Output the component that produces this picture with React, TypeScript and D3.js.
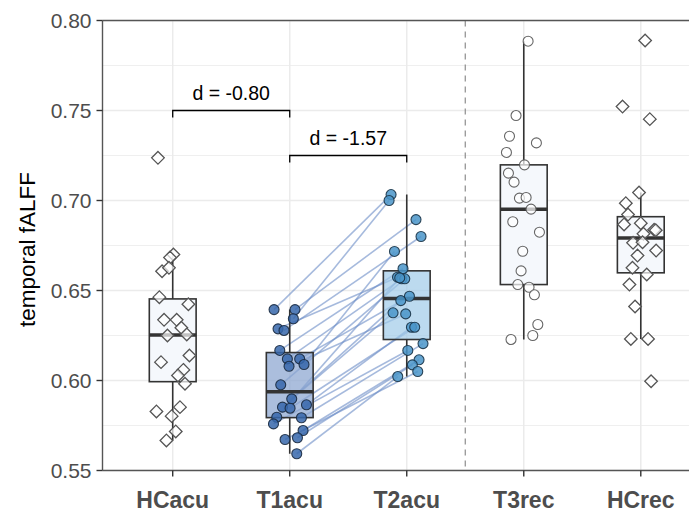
import React, { useRef, useEffect } from 'react';
import * as d3 from 'd3';

// groups on the x axis
const categories = ['HCacu', 'T1acu', 'T2acu', 'T3rec', 'HCrec'];

// fALFF values, jitter in fractions of a category step
const hcAcu = [0.7237, 0.670, 0.6683, 0.6607, 0.6626, 0.6463, 0.6424, 0.6337, 0.6337, 0.6293, 0.625,
    0.6256, 0.6139, 0.6102, 0.6059, 0.6028, 0.5982, 0.5828, 0.5852, 0.5802, 0.5717, 0.5667];
const hcAcuJitter = [-0.126, 0.006, -0.023, -0.091, -0.032, -0.114, 0.134, -0.074, 0.034, 0.074, -0.045,
    0.120, 0.143, -0.100, 0.091, 0.045, 0.105, -0.139, 0.062, -0.009, 0.026, -0.054];

// paired patients: same index = same subject
const t1Acu = [0.6394, 0.6394, 0.6343, 0.6287, 0.6278, 0.6167, 0.612, 0.612, 0.6089, 0.6079, 0.5976,
    0.5898, 0.5865, 0.5852, 0.5846, 0.5796, 0.5793, 0.5759, 0.5722, 0.5682, 0.5672, 0.5593];
const t1Jitter = [-0.134, 0.045, 0.031, -0.100, -0.049, -0.085, -0.020, 0.085, 0.122, -0.006, -0.077,
    0.017, 0.143, -0.062, 0.003, -0.111, 0.100, -0.139, 0.114, 0.066, -0.040, 0.060];
const t2Acu = [0.7033, 0.6894, 0.700, 0.6574, 0.680, 0.6621, 0.6565, 0.6468, 0.6717, 0.6370, 0.6565,
    0.6444, 0.6296, 0.6376, 0.6296, 0.657, 0.6205, 0.6167, 0.6115, 0.6087, 0.605, 0.6022];
const t2Jitter = [-0.134, 0.079, -0.151, -0.079, 0.122, -0.032, -0.043, 0.023, -0.105, -0.009, -0.017,
    -0.051, 0.040, -0.117, 0.068, -0.060, 0.139, 0.009, 0.105, 0.048, 0.094, -0.077];

const t3Rec = [0.7885, 0.7472, 0.7357, 0.7320, 0.7267, 0.7198, 0.7152, 0.7102, 0.7013, 0.7017, 0.6952,
    0.6882, 0.6824, 0.6718, 0.6609, 0.6533, 0.6518, 0.6476, 0.6311, 0.625, 0.6228];
const t3Jitter = [0.037, -0.066, -0.122, 0.108, -0.148, 0.006, -0.131, -0.083, -0.037, 0.020, 0.062,
    -0.094, 0.134, -0.009, -0.023, -0.051, 0.045, 0.091, 0.120, 0.077, -0.109];

const hcRec = [0.7889, 0.7522, 0.7452, 0.7044, 0.6985, 0.6922, 0.6867, 0.6874, 0.6815, 0.6837, 0.6835,
    0.6765, 0.6768, 0.6722, 0.6694, 0.6626, 0.6589, 0.6533, 0.6411, 0.6231, 0.6231, 0.5996];
const hcRecJitter = [0.037, -0.156, 0.077, -0.015, -0.128, -0.109, -0.143, 0.0, 0.023, 0.114, 0.128,
    -0.066, 0.015, 0.131, -0.028, -0.071, 0.051, -0.097, -0.049, -0.085, 0.062, 0.088];

const yTicks = [0.55, 0.60, 0.65, 0.70, 0.75, 0.80];
const yMinorTicks = [0.575, 0.625, 0.675, 0.725, 0.775];

// effect size brackets
const brackets = [
    { from: 'HCacu', to: 'T1acu', y: 0.75, label: 'd = -0.80' },
    { from: 'T1acu', to: 'T2acu', y: 0.725, label: 'd = -1.57' }
];

const W = 689, H = 515;
const panel = { left: 102.5, right: 711, top: 20.5, bottom: 470.5 };
const FONT = "'Liberation Sans', Arial, Helvetica, sans-serif";

// ggplot style box stats (type 7 quantiles, 1.5 IQR whiskers)
const boxStats = (values) => {
    const s = [...values].sort(d3.ascending);
    const q1 = d3.quantileSorted(s, 0.25);
    const med = d3.quantileSorted(s, 0.5);
    const q3 = d3.quantileSorted(s, 0.75);
    const iqr = q3 - q1;
    const lo = d3.min(s.filter(v => v >= q1 - 1.5 * iqr));
    const hi = d3.max(s.filter(v => v <= q3 + 1.5 * iqr));
    return { q1, med, q3, lo, hi };
};

export default function App() {
    const svgRef = useRef(null);

    useEffect(() => {
        const svg = d3.select(svgRef.current);
        svg.selectAll('*').remove();

        const x = d3.scalePoint().domain(categories).range([panel.left, panel.right]).padding(0.6);
        const y = d3.scaleLinear().domain([0.55, 0.80]).range([panel.bottom, panel.top]);
        const step = x.step();
        const boxW = step * 0.4;

        svg.append('clipPath').attr('id', 'panel-clip')
            .append('rect')
            .attr('x', panel.left).attr('y', panel.top)
            .attr('width', panel.right - panel.left).attr('height', panel.bottom - panel.top);

        const g = svg.append('g').attr('clip-path', 'url(#panel-clip)');

        // grid
        g.selectAll('.minor').data(yMinorTicks).join('line')
            .attr('x1', panel.left).attr('x2', panel.right)
            .attr('y1', d => y(d)).attr('y2', d => y(d))
            .attr('stroke', '#ebebeb').attr('stroke-width', 0.8);
        g.selectAll('.major').data(yTicks).join('line')
            .attr('x1', panel.left).attr('x2', panel.right)
            .attr('y1', d => y(d)).attr('y2', d => y(d))
            .attr('stroke', '#ebebeb').attr('stroke-width', 1.5);
        g.selectAll('.vgrid').data(categories).join('line')
            .attr('x1', d => x(d)).attr('x2', d => x(d))
            .attr('y1', panel.top).attr('y2', panel.bottom)
            .attr('stroke', '#ebebeb').attr('stroke-width', 1.5);

        // acute / recovery separator
        const sepX = (x('T2acu') + x('T3rec')) / 2;
        g.append('line')
            .attr('x1', sepX).attr('x2', sepX)
            .attr('y1', panel.top).attr('y2', panel.bottom)
            .attr('stroke', '#8c8c8c').attr('stroke-width', 1.2)
            .attr('stroke-dasharray', '6,5');

        // patient lines T1 -> T2
        g.selectAll('.pair').data(t1Acu).join('line')
            .attr('x1', (d, i) => x('T1acu') + t1Jitter[i] * step)
            .attr('y1', d => y(d))
            .attr('x2', (d, i) => x('T2acu') + t2Jitter[i] * step)
            .attr('y2', (d, i) => y(t2Acu[i]))
            .attr('stroke', '#6a8cc6').attr('stroke-opacity', 0.6).attr('stroke-width', 1.6);

        const groups = [
            { key: 'HCacu', values: hcAcu, jitter: hcAcuJitter, boxFill: '#f5f8fc', boxOpacity: 1, shape: 'diamond', fill: '#ffffff', stroke: '#555555' },
            { key: 'T1acu', values: t1Acu, jitter: t1Jitter, boxFill: '#8aa5d0', boxOpacity: 0.72, shape: 'circle', fill: '#3767ab', stroke: '#1a2a40' },
            { key: 'T2acu', values: t2Acu, jitter: t2Jitter, boxFill: '#9fcbe8', boxOpacity: 0.7, shape: 'circle', fill: '#4a95c9', stroke: '#1a3448' },
            { key: 'T3rec', values: t3Rec, jitter: t3Jitter, boxFill: '#f5f8fc', boxOpacity: 1, shape: 'circle', fill: '#ffffff', stroke: '#555555' },
            { key: 'HCrec', values: hcRec, jitter: hcRecJitter, boxFill: '#f5f8fc', boxOpacity: 1, shape: 'diamond', fill: '#ffffff', stroke: '#555555' }
        ];

        groups.forEach(grp => {
            const st = boxStats(grp.values);
            const cx = x(grp.key);
            const bg = g.append('g');
            bg.append('line')
                .attr('x1', cx).attr('x2', cx).attr('y1', y(st.hi)).attr('y2', y(st.q3))
                .attr('stroke', '#333').attr('stroke-width', 1.6);
            bg.append('line')
                .attr('x1', cx).attr('x2', cx).attr('y1', y(st.q1)).attr('y2', y(st.lo))
                .attr('stroke', '#333').attr('stroke-width', 1.6);
            bg.append('rect')
                .attr('x', cx - boxW / 2).attr('y', y(st.q3))
                .attr('width', boxW).attr('height', y(st.q1) - y(st.q3))
                .attr('fill', grp.boxFill).attr('fill-opacity', grp.boxOpacity)
                .attr('stroke', '#333').attr('stroke-width', 1.6);
            bg.append('line')
                .attr('x1', cx - boxW / 2).attr('x2', cx + boxW / 2)
                .attr('y1', y(st.med)).attr('y2', y(st.med))
                .attr('stroke', '#333').attr('stroke-width', 3.5);
        });

        groups.forEach(grp => {
            const cx = x(grp.key);
            const pts = grp.values.map((v, i) => ({ px: cx + grp.jitter[i] * step, py: y(v) }));
            if (grp.shape === 'diamond') {
                g.append('g').selectAll('path').data(pts).join('path')
                    .attr('d', d => `M${d.px},${d.py - 6.3}L${d.px + 6.3},${d.py}L${d.px},${d.py + 6.3}L${d.px - 6.3},${d.py}Z`)
                    .attr('fill', grp.fill).attr('fill-opacity', 0.7)
                    .attr('stroke', grp.stroke).attr('stroke-width', 1.3);
            } else {
                g.append('g').selectAll('circle').data(pts).join('circle')
                    .attr('cx', d => d.px).attr('cy', d => d.py).attr('r', 5)
                    .attr('fill', grp.fill).attr('fill-opacity', grp.fill === '#ffffff' ? 0.7 : 0.85)
                    .attr('stroke', grp.stroke).attr('stroke-opacity', 0.9).attr('stroke-width', 1.1);
            }
        });

        // brackets
        brackets.forEach(b => {
            const x1 = x(b.from), x2 = x(b.to), by = y(b.y);
            svg.append('path')
                .attr('d', `M${x1},${by + 7}V${by}H${x2}V${by + 7}`)
                .attr('fill', 'none').attr('stroke', '#000').attr('stroke-width', 1.3);
            svg.append('text')
                .attr('x', (x1 + x2) / 2).attr('y', by - 10.5)
                .attr('text-anchor', 'middle')
                .attr('font-family', FONT).attr('font-size', 19.5).attr('fill', '#000')
                .text(b.label);
        });

        // panel border and axes
        svg.append('line')
            .attr('x1', panel.left).attr('x2', panel.right).attr('y1', panel.top).attr('y2', panel.top)
            .attr('stroke', '#555').attr('stroke-width', 1.4);
        svg.append('line')
            .attr('x1', panel.left).attr('x2', panel.right).attr('y1', panel.bottom).attr('y2', panel.bottom)
            .attr('stroke', '#555').attr('stroke-width', 1.4);
        svg.append('line')
            .attr('x1', panel.left).attr('x2', panel.left).attr('y1', panel.top).attr('y2', panel.bottom)
            .attr('stroke', '#555').attr('stroke-width', 1.4);

        const yAxis = svg.append('g');
        yAxis.selectAll('line').data(yTicks).join('line')
            .attr('x1', panel.left - 6).attr('x2', panel.left)
            .attr('y1', d => y(d)).attr('y2', d => y(d))
            .attr('stroke', '#333').attr('stroke-width', 1.4);
        yAxis.selectAll('text').data(yTicks).join('text')
            .attr('x', panel.left - 11).attr('y', d => y(d))
            .attr('dy', '0.36em').attr('text-anchor', 'end')
            .attr('font-family', FONT).attr('font-size', 21).attr('fill', '#4d4d4d')
            .text(d => d3.format('.2f')(d));

        const xAxis = svg.append('g');
        xAxis.selectAll('line').data(categories).join('line')
            .attr('x1', d => x(d)).attr('x2', d => x(d))
            .attr('y1', panel.bottom).attr('y2', panel.bottom + 6)
            .attr('stroke', '#333').attr('stroke-width', 1.4);
        xAxis.selectAll('text').data(categories).join('text')
            .attr('x', d => x(d)).attr('y', 508)
            .attr('text-anchor', 'middle')
            .attr('font-family', FONT).attr('font-size', 23).attr('font-weight', 'bold').attr('fill', '#4d4d4d')
            .text(d => d);

        svg.append('text')
            .attr('transform', `translate(35,${(panel.top + panel.bottom) / 2 + 4}) rotate(-90)`)
            .attr('text-anchor', 'middle')
            .attr('font-family', FONT).attr('font-size', 22.5).attr('fill', '#000')
            .text('temporal fALFF');
    }, []);

    return (
        <svg ref={svgRef} width={W} height={H}
            style={{ position: 'absolute', left: 0, top: 0, background: '#fff' }} />
    );
}
